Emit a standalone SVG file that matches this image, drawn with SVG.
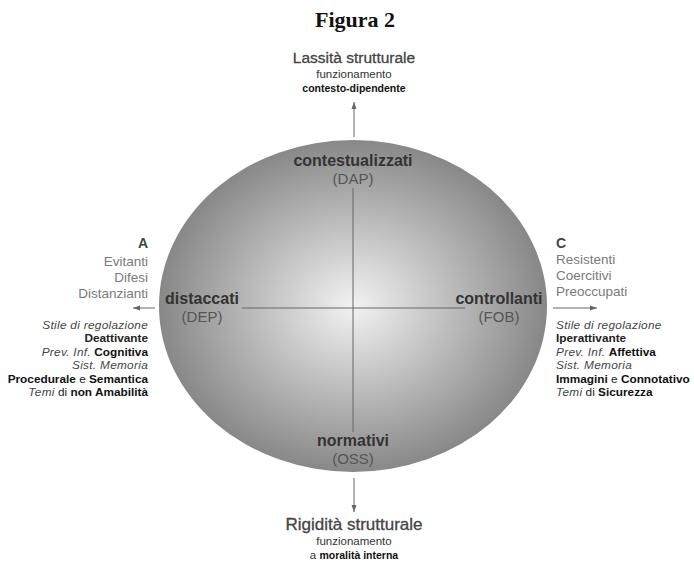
<svg xmlns="http://www.w3.org/2000/svg" width="694" height="563" viewBox="0 0 694 563">
<style>
.t{font-family:"Liberation Sans",Arial,sans-serif;}
.title{font-family:"Liberation Serif",serif;font-weight:bold;font-size:22px;fill:#111;}
.h{font-size:15.5px;fill:#444;stroke:#444;stroke-width:0.3;}
.sub{font-size:11.5px;fill:#333;}
.b{font-weight:bold;fill:#111;stroke:none;}
.node{font-size:16px;font-weight:bold;fill:#333;}
.code{font-size:15px;fill:#555;}
.grey{font-size:13.5px;fill:#7a7a7a;}
.sm{font-size:11.8px;fill:#222;}
.it{font-style:italic;fill:#444;letter-spacing:0.3px;}
.ax{stroke:#666;stroke-width:1;fill:none;}
.arr{stroke:#666;stroke-width:1;fill:none;marker-end:url(#ah);}
</style>
<defs>
<radialGradient id="g" cx="353" cy="306" r="195" gradientUnits="userSpaceOnUse" gradientTransform="translate(353 306) scale(1 0.86) translate(-353 -306)">
<stop offset="0" stop-color="#f2f2f2"/>
<stop offset="1" stop-color="#878787"/>
</radialGradient>
<marker id="ah" markerWidth="8" markerHeight="6" refX="7" refY="3" orient="auto" markerUnits="userSpaceOnUse">
<path d="M0,0.5 L7,3 L0,5.5 z" fill="#666"/>
</marker>
</defs>
<text class="title" x="355" y="27" text-anchor="middle">Figura 2</text>
<g id="circle"><ellipse cx="353" cy="306" rx="194" ry="166" fill="url(#g)"/></g>
<g id="connectors">
<line class="ax" x1="353" y1="188" x2="353" y2="432"/>
<line class="ax" x1="242" y1="308" x2="465" y2="308"/>
<line class="arr" x1="354" y1="137" x2="354" y2="102"/>
<line class="arr" x1="354" y1="478" x2="354" y2="512"/>
<line class="arr" x1="155" y1="308" x2="133" y2="308"/>
<line class="arr" x1="553" y1="308" x2="597" y2="308"/>
</g>
<g id="top" class="t" text-anchor="middle">
<text class="h" x="354" y="63">Lassità strutturale</text>
<text class="sub" x="354" y="78">funzionamento</text>
<text class="sub b" x="354" y="92" style="font-size:10.5px">contesto-dipendente</text>
</g>
<g id="contestualizzati" class="t" text-anchor="middle">
<text class="node" x="353" y="166">contestualizzati</text>
<text class="code" x="353" y="184">(DAP)</text>
</g>
<g id="distaccati" class="t" text-anchor="middle">
<text class="node" x="202" y="304">distaccati</text>
<text class="code" x="202" y="322">(DEP)</text>
</g>
<g id="controllanti" class="t" text-anchor="middle">
<text class="node" x="499" y="304">controllanti</text>
<text class="code" x="499" y="322">(FOB)</text>
</g>
<g id="normativi" class="t" text-anchor="middle">
<text class="node" x="353" y="446">normativi</text>
<text class="code" x="353" y="464">(OSS)</text>
</g>
<g id="bottom" class="t" text-anchor="middle">
<text class="h" x="354" y="530" style="font-size:17px">Rigidità strutturale</text>
<text class="sub" x="354" y="545">funzionamento</text>
<text class="sub" x="354" y="559">a <tspan class="b" style="font-size:10.5px">moralità interna</tspan></text>
</g>
<g id="A" class="t" text-anchor="end">
<text class="node" x="148" y="248" style="font-size:14px;fill:#444">A</text>
<text class="grey" x="148" y="266">Evitanti</text>
<text class="grey" x="148" y="282">Difesi</text>
<text class="grey" x="148" y="298">Distanzianti</text>
<text class="sm it" x="148" y="329">Stile di regolazione</text>
<text class="sm b" x="148" y="342">Deattivante</text>
<text class="sm" x="148" y="356"><tspan class="it">Prev. Inf.</tspan> <tspan class="b">Cognitiva</tspan></text>
<text class="sm it" x="148" y="369">Sist. Memoria</text>
<text class="sm" x="148" y="383"><tspan class="b">Procedurale</tspan> e <tspan class="b">Semantica</tspan></text>
<text class="sm" x="148" y="396"><tspan class="it">Temi</tspan> di <tspan class="b">non Amabilità</tspan></text>
</g>
<g id="C" class="t" text-anchor="start">
<text class="node" x="556" y="248" style="font-size:14px;fill:#444">C</text>
<text class="grey" x="556" y="264">Resistenti</text>
<text class="grey" x="556" y="280">Coercitivi</text>
<text class="grey" x="556" y="296">Preoccupati</text>
<text class="sm it" x="556" y="329">Stile di regolazione</text>
<text class="sm b" x="556" y="342">Iperattivante</text>
<text class="sm" x="556" y="356"><tspan class="it">Prev. Inf.</tspan> <tspan class="b">Affettiva</tspan></text>
<text class="sm it" x="556" y="369">Sist. Memoria</text>
<text class="sm" x="556" y="383"><tspan class="b">Immagini</tspan> e <tspan class="b">Connotativo</tspan></text>
<text class="sm" x="556" y="396"><tspan class="it">Temi</tspan> di <tspan class="b">Sicurezza</tspan></text>
</g>
</svg>
